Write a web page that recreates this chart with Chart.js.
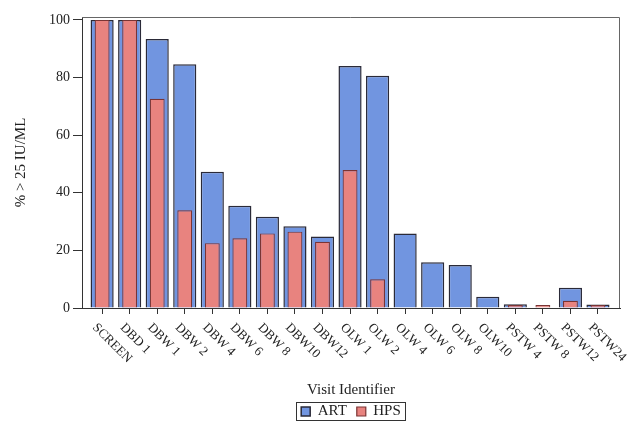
<!DOCTYPE html>
<html>
<head>
    <title>% > 25 IU/ML by visit</title>
    <script src="https://cdn.jsdelivr.net/npm/chart.js"></script>
    <style>
        body {
            margin: 0;
            padding: 0;
            background: white;
        }
        .wrap {
            width: 632px;
            height: 425px;
        }
    </style>
</head>
<body>
    <div class="wrap"><canvas id="visitChart" width="632" height="425"></canvas></div>

    <script>
        // values
        var visits = ["SCREEN", "DBD 1", "DBW 1", "DBW 2", "DBW 4", "DBW 6", "DBW 8", "DBW10", "DBW12",
                      "OLW 1", "OLW 2", "OLW 4", "OLW 6", "OLW 8", "OLW10", "PSTW 4", "PSTW 8", "PSTW12", "PSTW24"];
        var artValues = [100, 100, 93.4, 84.6, 47.3, 35.5, 31.7, 28.4, 24.8, 84.0, 80.6, 25.9, 15.9, 14.9, 3.9, 1.3, 0, 7.0, 1.2];
        var hpsValues = [100, 100, 72.6, 33.9, 22.5, 24.2, 25.9, 26.5, 23.0, 47.9, 10.0, 0, 0, 0, 0, 1.0, 1.0, 2.5, 1.0];
        var yTicks = [0, 20, 40, 60, 80, 100];

        var serif = "'Liberation Serif', 'DejaVu Serif', serif";
        Chart.defaults.font.family = serif;
        Chart.defaults.color = "#222";

        function toPoints(values) {
            return values.map(function (v, i) { return { x: i, y: v }; });
        }

        // frame round the plot, rotated visit labels, box round the legend
        var extras = {
            id: "extras",
            afterDraw: function (chart) {
                var ctx = chart.ctx;
                var a = chart.chartArea;
                var xs = chart.scales.x;
                ctx.save();
                ctx.strokeStyle = "#666";
                ctx.lineWidth = 1;
                ctx.beginPath();
                ctx.moveTo(a.left, a.top + 0.5);
                ctx.lineTo(a.right - 0.5, a.top + 0.5);
                ctx.lineTo(a.right - 0.5, a.bottom);
                ctx.stroke();

                ctx.fillStyle = "#222";
                ctx.font = "13px " + serif;
                ctx.textAlign = "left";
                ctx.textBaseline = "top";
                visits.forEach(function (label, i) {
                    var x = xs.getPixelForValue(i);
                    ctx.save();
                    ctx.translate(x - 3, a.bottom + 13);
                    ctx.rotate(Math.PI / 4);
                    ctx.fillText(label, 0, 0);
                    ctx.restore();
                });

                var boxes = chart.legend.legendHitBoxes;
                if (boxes && boxes.length) {
                    var l = Infinity, t = Infinity, r = -Infinity, b = -Infinity;
                    boxes.forEach(function (h) {
                        l = Math.min(l, h.left); t = Math.min(t, h.top);
                        r = Math.max(r, h.left + h.width); b = Math.max(b, h.top + h.height);
                    });
                    ctx.strokeStyle = "#333";
                    ctx.strokeRect(Math.round(l - 5) + 0.5, Math.round(t - 2) + 0.5, Math.round(r - l + 9), Math.round(b - t + 3));
                }
                ctx.restore();
            }
        };

        var ctx = document.getElementById("visitChart").getContext("2d");
        new Chart(ctx, {
            type: "bar",
            data: {
                datasets: [{
                    label: "ART",
                    data: toPoints(artValues),
                    backgroundColor: "#7195E0",
                    borderColor: "#2a2a38",
                    borderWidth: 1.5,
                    grouped: false,
                    categoryPercentage: 1,
                    barPercentage: 0.84,
                    order: 2
                }, {
                    label: "HPS",
                    data: toPoints(hpsValues),
                    backgroundColor: "#E8837F",
                    borderColor: "#7a3434",
                    borderWidth: 1.2,
                    grouped: false,
                    categoryPercentage: 1,
                    barPercentage: 0.54,
                    order: 1
                }]
            },
            options: {
                responsive: false,
                animation: false,
                layout: { padding: { top: 17, right: 12, left: 0, bottom: -4 } },
                plugins: {
                    tooltip: { enabled: false },
                    legend: {
                        position: "bottom",
                        fullSize: false,
                        labels: {
                            font: { size: 15 },
                            boxWidth: 9,
                            boxHeight: 9,
                            padding: 10,
                            color: "#222",
                            sort: function (a, b) { return a.datasetIndex - b.datasetIndex; }
                        }
                    }
                },
                scales: {
                    x: {
                        type: "linear",
                        min: -0.73,
                        max: 18.8,
                        offset: false,
                        afterFit: function (s) {
                            var lh = s.chart.legend && s.chart.legend.height ? s.chart.legend.height : 35;
                            s.height = s.chart.height + 4 - lh - 308;
                        },
                        ticks: { display: false, stepSize: 1, includeBounds: false },
                        grid: { offset: false, drawOnChartArea: false, drawTicks: true, tickLength: 6, color: "#333" },
                        border: { color: "#333", width: 1 },
                        title: {
                            display: true,
                            text: "Visit Identifier",
                            font: { size: 15 },
                            color: "#222",
                            padding: { top: 0, bottom: -5 }
                        }
                    },
                    y: {
                        min: 0,
                        max: 101,
                        afterFit: function (s) { s.width = 82; },
                        afterBuildTicks: function (s) {
                            s.ticks = yTicks.map(function (v) { return { value: v }; });
                        },
                        ticks: { font: { size: 14 }, color: "#222", padding: 3 },
                        grid: { drawOnChartArea: false, drawTicks: true, tickLength: 9, color: "#333" },
                        border: { color: "#333", width: 1 },
                        title: {
                            display: true,
                            text: "% > 25 IU/ML",
                            font: { size: 15 },
                            color: "#222",
                            padding: { top: 12, bottom: 0 }
                        }
                    }
                }
            },
            plugins: [extras]
        });
    </script>
</body>
</html>
